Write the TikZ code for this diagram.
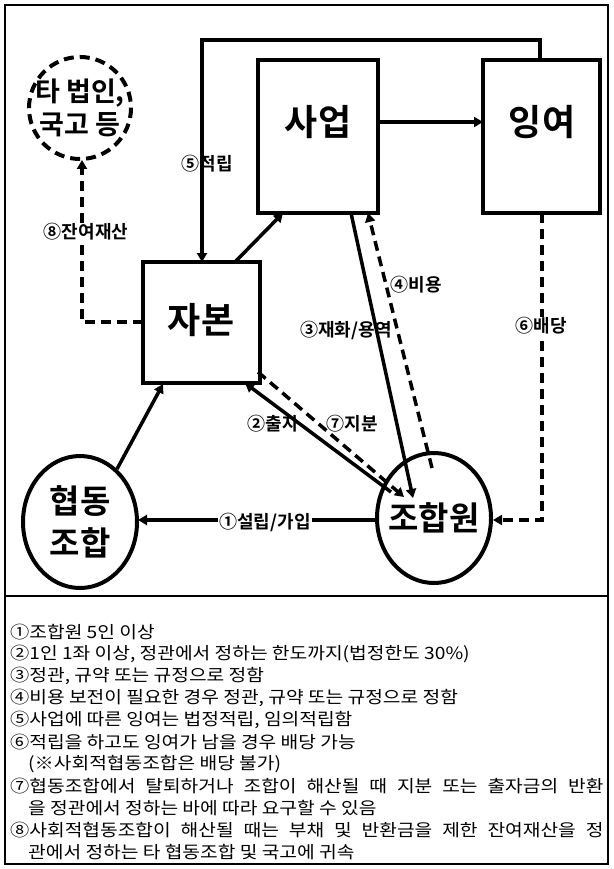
\documentclass[tikz,border=0pt]{standalone}
\usepackage{fontspec}
\setmainfont{Noto Sans CJK KR}
\newfontfamily\kb{Noto Sans CJK KR Bold}
\usetikzlibrary{arrows.meta}
\newcommand{\wdn}[1]{\scalebox{1.13}[1]{#1}}
\begin{document}
\begin{tikzpicture}[x=1pt,y=-1pt,
  ln/.style={line width=3.5pt},
  ar/.style={ln,-{Triangle[length=9pt,width=10pt]}},
  dsh/.style={dash pattern=on 10pt off 6pt},
  big/.style={font=\kb\fontsize{36}{40}\selectfont},
  lab/.style={font=\kb\fontsize{18}{20}\selectfont,fill=white,inner sep=1pt},
  note/.style={anchor=west,font=\fontsize{17}{18}\selectfont,inner sep=0pt}]
\useasboundingbox (0,0) rectangle (613,869);
\fill[white] (0,0) rectangle (613,869);
\draw[line width=1.2pt] (5,5) rectangle (608,864);
\draw[line width=1.2pt] (5,596) -- (608,596);
% boxes
\draw[line width=4.5pt] (258,60) rectangle (378,213);
\node[big] (saup) at (318,122) {사업};
\draw[line width=4.5pt] (483,60) rectangle (600,213);
\node[big] (ing) at (542,122) {잉여};
\draw[line width=4.5pt] (143,262) rectangle (260,383);
\node[big] (jabon) at (201,320) {자본};
\draw[line width=4pt,dsh] (80,108) circle (51);
\node[font=\kb\fontsize{27}{33}\selectfont,align=center] (ta) at (80,108) {타 법인,\\국고 등};
\draw[line width=4pt] (80,522) ellipse (57 and 66);
\node[align=center,font=\kb\fontsize{33}{42}\selectfont] (hd) at (80,522) {협동\\조합};
\draw[line width=4pt] (434,518) ellipse (57 and 65);
\node[font=\kb\fontsize{33}{38}\selectfont] (jh) at (434,518) {조합원};
% coordinates
\coordinate (ingT) at (540,60);
\coordinate (c1) at (540,40);
\coordinate (c2) at (202,40);
\coordinate (jabT) at (202,262);
\coordinate (saR) at (378,122);
\coordinate (ingL) at (483,122);
\coordinate (jabTR) at (235,262);
\coordinate (saBL) at (283,213);
\coordinate (saB1) at (351,213);
\coordinate (jhT1) at (413,498);
\coordinate (jhT2) at (432,468);
\coordinate (saB2) at (368,213);
\coordinate (ingB) at (542,213);
\coordinate (c3) at (542,520);
\coordinate (jhR) at (493,520);
\coordinate (jabL) at (143,322);
\coordinate (c4) at (82,322);
\coordinate (taB) at (82,160);
\coordinate (jhTL) at (391,492);
\coordinate (jabB1) at (245,383);
\coordinate (jabB2) at (258,372);
\coordinate (jhTL2) at (404,497);
\coordinate (hdT) at (117,469);
\coordinate (jabB3) at (163,384);
\coordinate (jhL) at (377,520);
\coordinate (hdR) at (138,520);
% connectors
\draw[ar] (ingT) -- (c1) -- (c2) -- (jabT);
\draw[ar] (saR) -- (ingL);
\draw[ar] (jabTR) -- (saBL);
\draw[ar] (saB1) -- (jhT1);
\draw[ar,dsh] (jhT2) -- (saB2);
\draw[ar,dsh] (ingB) -- (c3) -- (jhR);
\draw[ar,dsh] (jabL) -- (c4) -- (taB);
\draw[ar] (jhTL) -- (jabB1);
\draw[ar,dsh] (jabB2) -- (jhTL2);
\draw[ar] (hdT) -- (jabB3);
\draw[ar] (jhL) -- (hdR);
% labels
\node[lab,fill=none] (l5) at (207,164) {⑤적립};
\node[lab] (l8) at (86,232) {⑧잔여재산};
\node[lab,fill=none] (l3) at (346,330) {③재화/용역};
\node[lab,fill=none] (l4) at (416,285) {④비용};
\node[lab] (l6) at (541,326) {⑥배당};
\node[lab,fill=none] (l2) at (273,424) {②출자};
\node[lab,fill=none] (l7) at (352,424) {⑦지분};
\node[lab] (l1) at (265,522) {①설립/가입};
% notes
\node[note] (n1) at (10,632) {\wdn{①조합원 5인 이상}};
\node[note] (n2) at (10,654) {\wdn{②1인 1좌 이상, 정관에서 정하는 한도까지(법정한도 30\%)}};
\node[note] (n3) at (10,676) {\wdn{③정관, 규약 또는 규정으로 정함}};
\node[note] (n4) at (10,698) {\wdn{④비용 보전이 필요한 경우 정관, 규약 또는 규정으로 정함}};
\node[note] (n5) at (10,720) {\wdn{⑤사업에 따른 잉여는 법정적립, 임의적립함}};
\node[note] (n6) at (10,742) {\wdn{⑥적립을 하고도 잉여가 남을 경우 배당 가능}};
\node[note] (n6b) at (28,764) {\wdn{(※사회적협동조합은 배당 불가)}};
\node[note] (n7) at (10,786) {\wdn{\makebox[525pt][s]{⑦협동조합에서 탈퇴하거나 조합이 해산될 때 지분 또는 출자금의 반환}}};
\node[note] (n7b) at (28,808) {\wdn{을 정관에서 정하는 바에 따라 요구할 수 있음}};
\node[note] (n8) at (10,830) {\wdn{\makebox[525pt][s]{⑧사회적협동조합이 해산될 때는 부채 및 반환금을 제한 잔여재산을 정}}};
\node[note] (n8b) at (28,852) {\wdn{관에서 정하는 타 협동조합 및 국고에 귀속}};
\end{tikzpicture}
\end{document}
